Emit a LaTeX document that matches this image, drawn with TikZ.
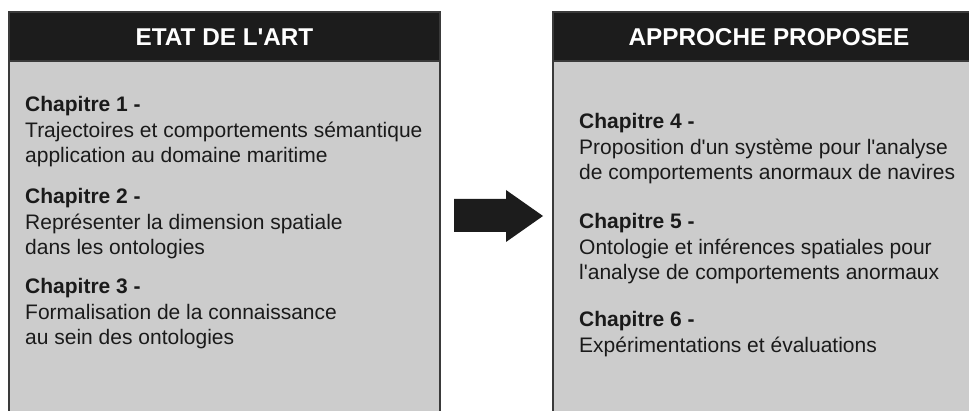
\documentclass[tikz,border=0pt]{standalone}
\usepackage{fontspec}
\setmainfont{Liberation Sans}
\definecolor{hdr}{HTML}{1C1C1C}
\definecolor{bodyfill}{HTML}{CCCCCC}
\definecolor{edge}{HTML}{3A3A3A}
\definecolor{txt}{HTML}{1A1A1A}
\newcommand{\apos}{\textquotesingle}
\tikzset{
  hdrbox/.style={fill=hdr, draw=edge, line width=2pt},
  bodybox/.style={fill=bodyfill, draw=edge, line width=2.5pt},
  hdrtext/.style={text=white, font=\fontsize{24.3}{28}\selectfont\bfseries, inner sep=0pt},
  chap/.style={text=txt, font=\fontsize{21}{25.5}\selectfont, anchor=base west, inner sep=0pt}
}
\newcommand{\chaptext}[1]{\begin{tabular}[t]{@{}l@{}}#1\end{tabular}}
\begin{document}
\begin{tikzpicture}[x=1pt,y=-1pt]
\useasboundingbox (0,0) rectangle (969,411);
\clip (0,0) rectangle (969,411);
% left box
\draw[bodybox] (9,61) rectangle (440,430);
\draw[hdrbox] (9,12) rectangle (440,61);
\node[hdrtext] (h1) at (224.5,37) {ETAT DE L\apos ART};
% right box
\draw[bodybox] (553,61) rectangle (986,430);
\draw[hdrbox] (553,12) rectangle (986,61);
\node[hdrtext] (h2) at (769,37) {APPROCHE PROPOSEE};
% left texts
\node[chap] (c1) at (25,112) {\chaptext{\textbf{Chapitre 1 -}\\Trajectoires et comportements sémantique\\application au domaine maritime}};
\node[chap] (c2) at (25,204) {\chaptext{\textbf{Chapitre 2 -}\\Représenter la dimension spatiale\\dans les ontologies}};
\node[chap] (c3) at (25,294) {\chaptext{\textbf{Chapitre 3 -}\\Formalisation de la connaissance\\au sein des ontologies}};
% right texts
\node[chap] (c4) at (579,129) {\chaptext{\textbf{Chapitre 4 -}\\Proposition d\apos un système pour l\apos analyse\\de comportements anormaux de navires}};
\node[chap] (c5) at (579,229) {\chaptext{\textbf{Chapitre 5 -}\\Ontologie et inférences spatiales pour\\l\apos analyse de comportements anormaux}};
\node[chap] (c6) at (579,327) {\chaptext{\textbf{Chapitre 6 -}\\Expérimentations et évaluations}};
% arrow
\fill[hdr] (454,199) -- (506,199) -- (506,190) -- (543,216) -- (506,242) -- (506,232) -- (454,232) -- cycle;
\end{tikzpicture}
\end{document}
